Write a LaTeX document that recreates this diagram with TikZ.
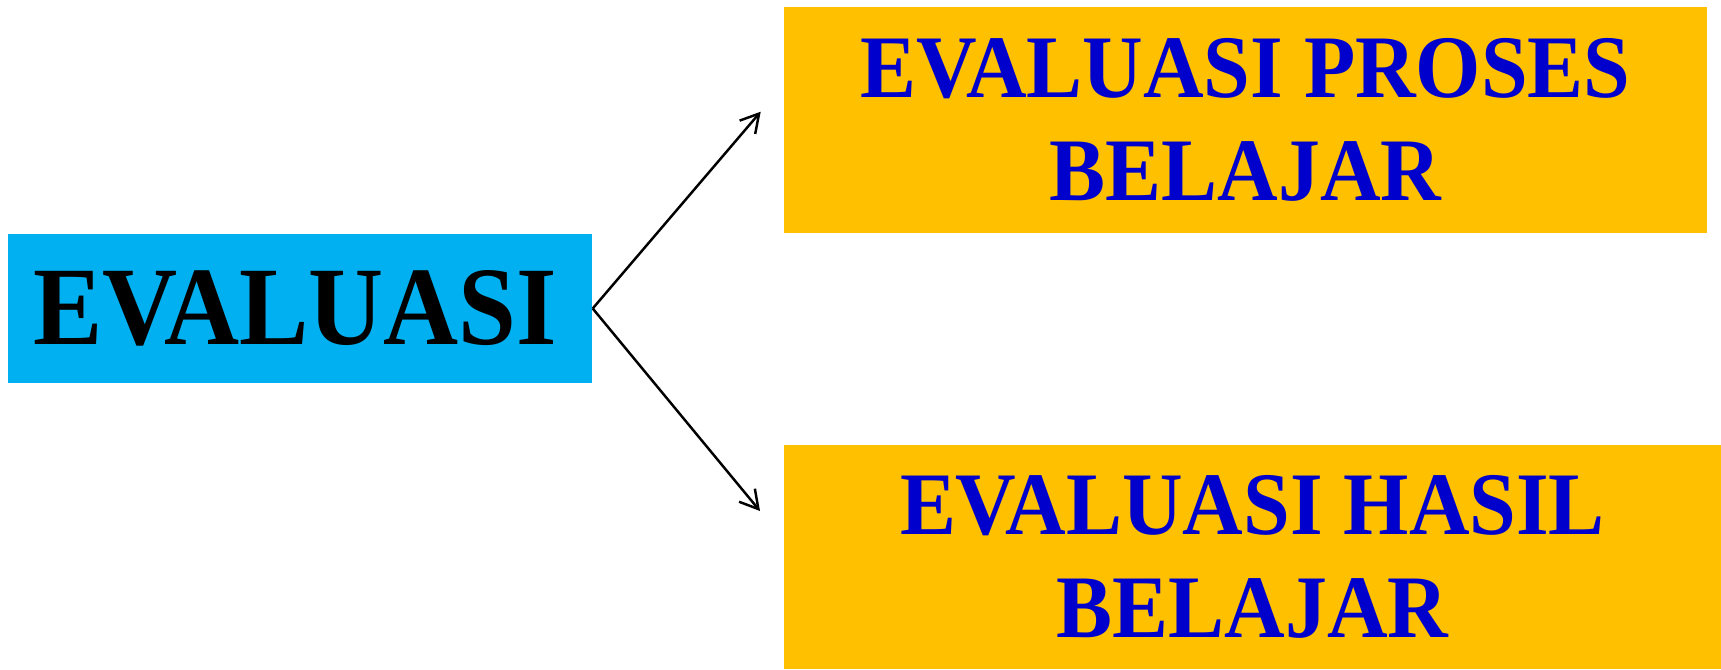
\documentclass[tikz,border=0pt]{standalone}
\usepackage{fontspec}
\usetikzlibrary{arrows.meta}
\newfontfamily\fblack[FakeStretch=0.93]{Liberation Serif}
\newfontfamily\fblue[FakeStretch=0.94]{Liberation Serif}
\definecolor{boxcyan}{HTML}{00B0F0}
\definecolor{boxgold}{HTML}{FFC000}
\definecolor{txtblue}{HTML}{0000CC}
\begin{document}
\begin{tikzpicture}[
  mainbox/.style={fill=boxcyan, draw=none, inner sep=0pt, minimum width=5.84cm, minimum height=1.49cm,
    font=\fblack\bfseries\fontsize{31.8pt}{38pt}\selectfont, text=black},
  subbox/.style={fill=boxgold, draw=none, inner sep=0pt, align=center,
    font=\fblue\bfseries\fontsize{25.4pt}{29.5pt}\selectfont, text=txtblue},
  link/.style={draw=black, line width=0.7pt, -{Straight Barb[length=1.8mm,width=2.05mm,line width=0.7pt]}}
]
\useasboundingbox (0,0) rectangle (17.21,6.69);
\node[mainbox] (eval) at (3.00,3.605) {EVALUASI\hspace*{0.1cm}};
\node[subbox, minimum width=9.23cm, minimum height=2.26cm] (proses) at (12.455,5.49) {EVALUASI PROSES\\BELAJAR};
\node[subbox, minimum width=9.37cm, minimum height=2.24cm] (hasil) at (12.525,1.12) {EVALUASI HASIL\\BELAJAR};
\coordinate (tipA) at (7.607,5.573);
\coordinate (tipB) at (7.600,1.580);
\draw[link] (eval.east) -- (tipA);
\draw[link] (eval.east) -- (tipB);
\end{tikzpicture}
\end{document}
